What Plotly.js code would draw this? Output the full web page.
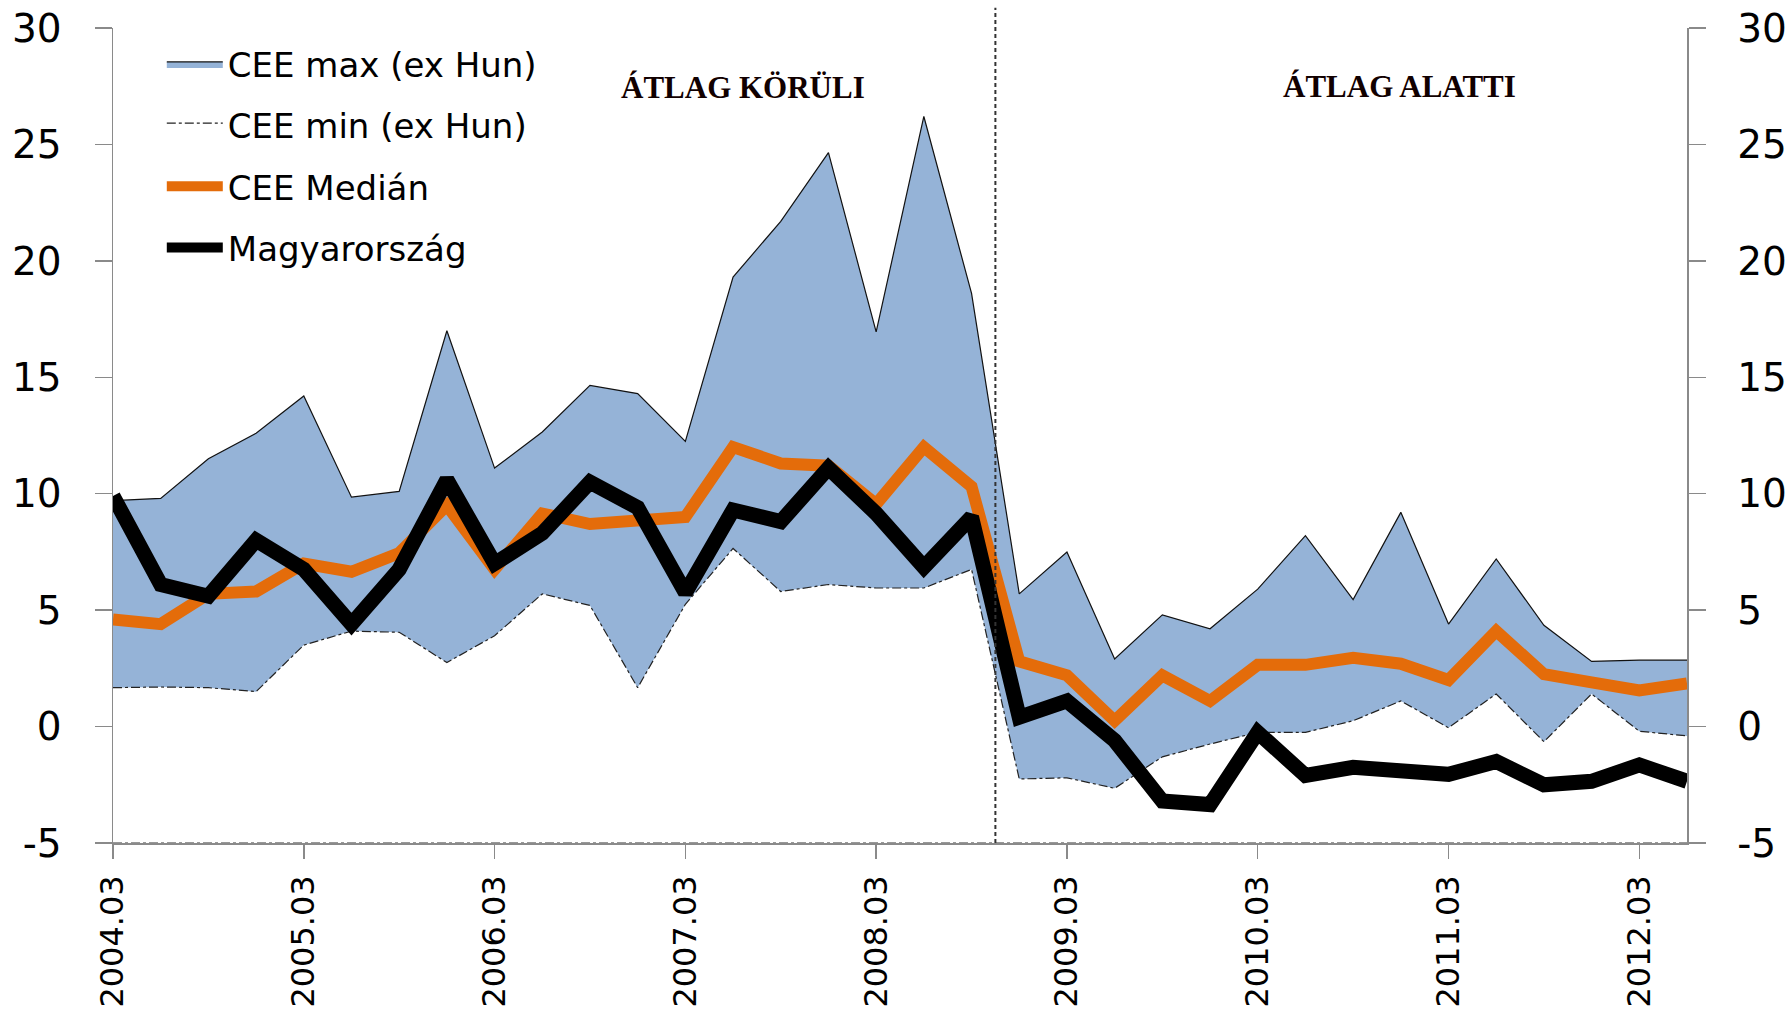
<!DOCTYPE html>
<html>
<head>
<meta charset="utf-8">
<script src="https://cdn.plot.ly/plotly-3.0.1.min.js"></script>
<style>
html,body{margin:0;padding:0;background:#fff;}
#chart{width:1789px;height:1017px;}
</style>
</head>
<body>
<div id="chart"></div>
<script>
const quarters = [
  "2004.03","2004.06","2004.09","2004.12",
  "2005.03","2005.06","2005.09","2005.12",
  "2006.03","2006.06","2006.09","2006.12",
  "2007.03","2007.06","2007.09","2007.12",
  "2008.03","2008.06","2008.09","2008.12",
  "2009.03","2009.06","2009.09","2009.12",
  "2010.03","2010.06","2010.09","2010.12",
  "2011.03","2011.06","2011.09","2011.12",
  "2012.03","2012.06"
];
const ceeMax = [9.7,9.8,11.5,12.6,14.2,9.85,10.1,17.0,11.1,12.65,14.65,14.3,12.25,19.3,21.7,24.65,16.95,26.2,18.6,5.7,7.5,2.9,4.8,4.2,5.9,8.2,5.45,9.2,4.4,7.2,4.35,2.8,2.85,2.85];
const ceeMin = [1.67,1.7,1.67,1.5,3.5,4.1,4.05,2.75,3.9,5.7,5.2,1.67,5.25,7.65,5.8,6.1,5.95,5.95,6.75,-2.25,-2.2,-2.65,-1.3,-0.75,-0.25,-0.25,0.25,1.1,-0.05,1.4,-0.65,1.4,-0.2,-0.4];
const ceeMedian = [4.6,4.4,5.7,5.8,7.0,6.65,7.45,9.5,6.75,9.15,8.7,8.9,9.0,12.0,11.3,11.2,9.55,12.0,10.3,2.8,2.2,0.25,2.2,1.1,2.65,2.65,2.95,2.7,2.0,4.1,2.25,1.9,1.55,1.85];
const hungary = [9.9,6.1,5.6,8.0,6.75,4.4,6.75,10.6,7.0,8.3,10.5,9.4,5.75,9.3,8.8,11.1,9.15,6.85,9.0,0.4,1.1,-0.6,-3.2,-3.35,-0.25,-2.1,-1.75,-1.85,-2.05,-1.5,-2.5,-2.35,-1.65,-2.35];
const xTickLabels = ["2004.03","2005.03","2006.03","2007.03","2008.03","2009.03","2010.03","2011.03","2012.03"];
const yTickVals = [-5,0,5,10,15,20,25,30];
const yTickText = ["-5","0","5","10","15","20","25","30"];
const seriesNames = ["CEE max (ex Hun)","CEE min (ex Hun)","CEE Medián","Magyarország"];
const periodLabels = ["ÁTLAG KÖRÜLI","ÁTLAG ALATTI"];

const FONT = "DejaVu Sans, Verdana, sans-serif";
const SERIF = "Liberation Serif, Times New Roman, serif";
const BLUE = "#95B3D7";
const ORANGE = "#E46C0A";
const AXIS = "#8a8a8a";

const traces = [
  {
    x: quarters, y: ceeMin, name: seriesNames[1], type: "scatter", mode: "lines",
    fill: "tozeroy", fillcolor: "rgba(255,255,255,1)",
    line: {color: "#222", width: 1.2, dash: "dashdot"},
    legendrank: 2, legendgroup: "b"
  },
  {
    x: quarters, y: ceeMax, name: seriesNames[0], type: "scatter", mode: "lines",
    fill: "tonexty", fillcolor: BLUE,
    line: {color: "#111", width: 1.2},
    legendrank: 1, legendgroup: "a"
  },
  {
    x: quarters, y: ceeMedian, name: seriesNames[2], type: "scatter", mode: "lines",
    line: {color: ORANGE, width: 12},
    legendrank: 3, legendgroup: "c"
  },
  {
    x: quarters, y: hungary, name: seriesNames[3], type: "scatter", mode: "lines",
    line: {color: "#000", width: 15},
    legendrank: 4, legendgroup: "d"
  },
  {
    /* carries the mirrored right-hand axis; draws nothing */
    x: quarters, y: hungary, yaxis: "y2", type: "scatter", mode: "none",
    showlegend: false, hoverinfo: "skip"
  }
];

const axisCommon = {
  range: [-5, 30],
  tickmode: "array", tickvals: yTickVals, ticktext: yTickText,
  ticks: "outside", ticklen: 17, tickwidth: 1.5, tickcolor: AXIS,
  showline: true, linecolor: AXIS, linewidth: 1.5,
  showgrid: false, zeroline: false,
  tickfont: {family: FONT, size: 39, color: "#000"},
  fixedrange: true
};

const layout = {
  width: 1789, height: 1017,
  margin: {l: 113, r: 102, t: 28, b: 174},
  paper_bgcolor: "#fff", plot_bgcolor: "#fff",
  showlegend: true,
  legend: {
    x: 0.031, y: 0.991, xanchor: "left", yanchor: "top",
    bgcolor: "rgba(0,0,0,0)", borderwidth: 0,
    font: {family: FONT, size: 34, color: "#000"},
    traceorder: "grouped", tracegroupgap: 14, itemwidth: 56
  },
  xaxis: {
    type: "category", range: [0, quarters.length - 1],
    tickmode: "array", tickvals: xTickLabels, ticktext: xTickLabels,
    tickangle: -90, ticks: "outside", ticklen: 14, tickwidth: 1.5, tickcolor: AXIS,
    showline: true, linecolor: AXIS, linewidth: 1.5, showgrid: false, zeroline: false,
    tickfont: {family: FONT, size: 32, color: "#000"},
    ticklabelstandoff: 4, fixedrange: true
  },
  yaxis: Object.assign({}, axisCommon, {side: "left", ticklabelstandoff: 25}),
  yaxis2: Object.assign({}, axisCommon, {side: "right", overlaying: "y", anchor: "x", ticklabelstandoff: 24}),
  shapes: [
    {type: "line", xref: "x", yref: "paper", x0: 18.5, x1: 18.5, y0: 0, y1: 1.025,
     line: {color: "#333", width: 2, dash: "4px,3px"}, layer: "above"},
    {type: "line", xref: "x", yref: "y", x0: 0, x1: quarters.length - 1, y0: -5, y1: -5,
     line: {color: "#333", width: 1.2, dash: "dashdot"}, layer: "above"}
  ],
  annotations: [
    {text: "<b>" + periodLabels[0] + "</b>", xref: "x", yref: "paper", x: 13.2, y: 0.9265,
     showarrow: false, xanchor: "center", yanchor: "middle",
     font: {family: SERIF, size: 31, color: "#100"}},
    {text: "<b>" + periodLabels[1] + "</b>", xref: "x", yref: "paper", x: 26.97, y: 0.9278,
     showarrow: false, xanchor: "center", yanchor: "middle",
     font: {family: SERIF, size: 31, color: "#100"}}
  ]
};

Plotly.newPlot("chart", traces, layout, {displayModeBar: false, staticPlot: true});
</script>
</body>
</html>
